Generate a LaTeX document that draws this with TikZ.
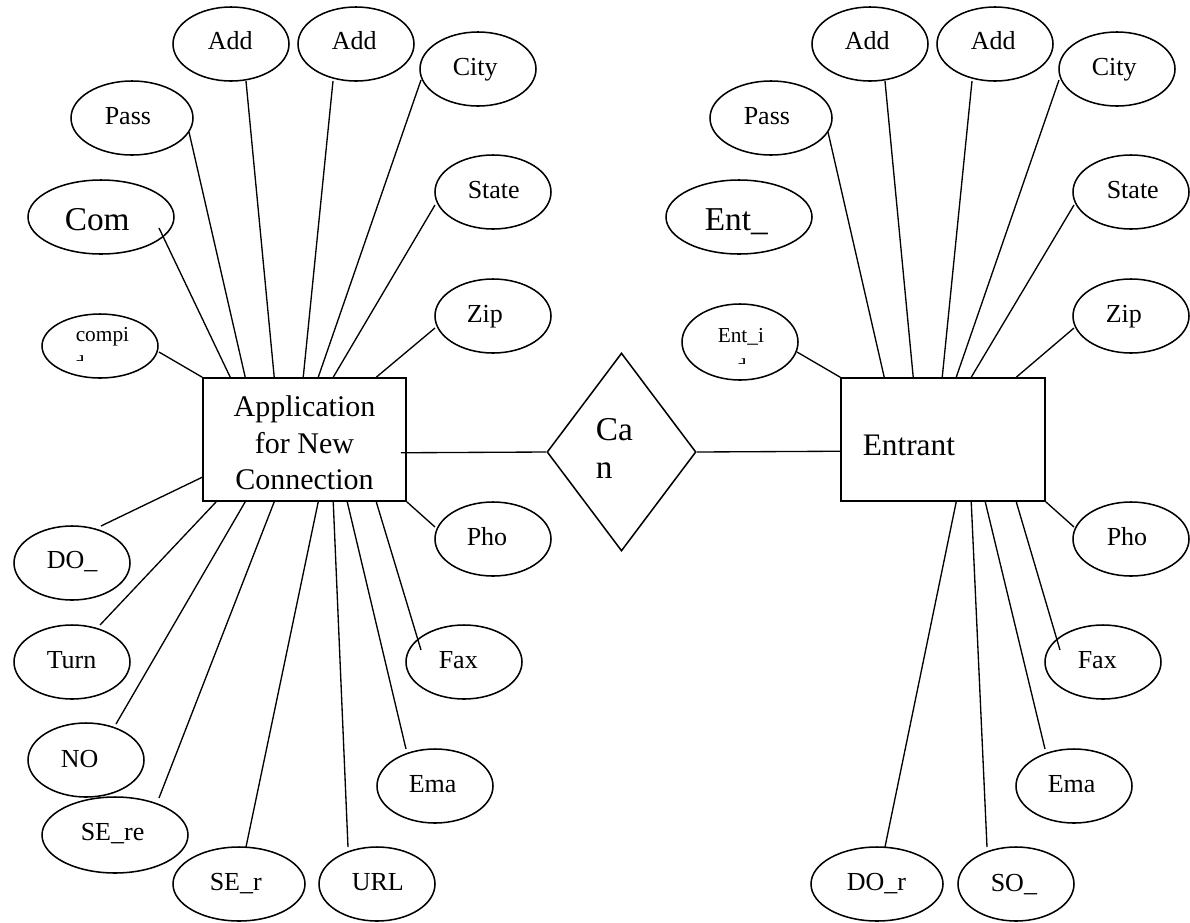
\documentclass[tikz,border=0pt]{standalone}
\usepackage{fontspec}
\setmainfont{Liberation Serif}
\usetikzlibrary{shapes.geometric,calc}
\newcommand\attrfont{\fontsize{19.5}{23}\selectfont}
\newcommand\keyfont{\fontsize{16}{19}\selectfont}
\newcommand\bigattrfont{\fontsize{25}{28.5}\selectfont}
\newcommand\appfont{\fontsize{22.5}{27.5}\selectfont}
\newcommand\entrantfont{\fontsize{23.5}{28}\selectfont}
\begin{document}
\begin{tikzpicture}[x=0.75pt,y=-0.75pt,line width=1.15pt,
  attr/.style={ellipse,draw,inner sep=0pt,minimum width=87pt,minimum height=55.5pt},
  entity/.style={rectangle,draw,inner sep=0pt,minimum width=152.25pt,minimum height=92.25pt},
  rel/.style={diamond,draw,inner sep=0pt,minimum width=111.75pt,minimum height=148.5pt},
  txt/.style={inner sep=0pt,anchor=base west,font=\attrfont},
  link/.style={line width=1pt}]
\useasboundingbox (0,0) rectangle (1190,922);

% ---------- entities and relationship ----------
\node[entity] (app) at (304.5,439.5) {};
\node[font=\appfont,align=center,inner sep=0pt] (apptext) at (304.5,443) {Application\\for New\\Connection};
\node[entity,minimum width=153pt] (ent) at (943,439.5) {};
\node[txt,font=\entrantfont] (enttext) at (862,455) {Entrant};
\node[rel] (can) at (621.5,452) {};
\node[txt,font=\bigattrfont] (cantext) at (595,440) {Ca};
\node[txt,font=\bigattrfont] (cantext2) at (595,478) {n};

% ---------- left attributes ----------
\node[attr] (add1) at (231,44) {};
\node[txt] at (207,49) {Add};
\node[attr] (add2) at (356,44) {};
\node[txt] at (331,49) {Add};
\node[attr] (city) at (478,69) {};
\node[txt] at (452,75) {City};
\node[attr,minimum width=91.5pt] (pass) at (132,118) {};
\node[txt] at (104,124) {Pass};
\node[attr,minimum width=109.5pt] (com) at (101,217) {};
\node[txt,font=\bigattrfont] at (64,230) {Com};
\node[attr] (state) at (493,192) {};
\node[txt] at (467,198) {State};
\node[attr] (zip) at (493,316) {};
\node[txt] at (466,322) {Zip};
\node[attr,minimum height=48pt] (compi) at (100,346) {};
\node[txt,font=\keyfont] at (75,341) {compi};
\begin{scope}
  \clip (60,330) rectangle (140,360);
  \node[txt,font=\keyfont] at (73,370) {d};
\end{scope}
\node[attr] (do) at (72,563) {};
\node[txt] at (46,568) {DO\_};
\node[attr] (pho) at (493,539) {};
\node[txt] at (466,545) {Pho};
\node[attr] (turn) at (72,662) {};
\node[txt] at (46,668) {Turn};
\node[attr] (no) at (86,760) {};
\node[txt] at (60,767) {NO};
\node[attr,minimum width=109.5pt,minimum height=57pt] (sere) at (115,835) {};
\node[txt] at (80,840) {SE\_re};
\node[attr,minimum width=99pt] (ser) at (239,884) {};
\node[txt] at (209,890) {SE\_r};
\node[attr] (url) at (377,884) {};
\node[txt] at (351,890) {URL};
\node[attr] (fax) at (464,662) {};
\node[txt] at (438,668) {Fax};
\node[attr] (ema) at (435,786) {};
\node[txt] at (408,792) {Ema};

% ---------- right attributes ----------
\node[attr] (add1r) at (870,44) {};
\node[txt] at (844,49) {Add};
\node[attr] (add2r) at (995,44) {};
\node[txt] at (970,49) {Add};
\node[attr] (cityr) at (1117,69) {};
\node[txt] at (1091,75) {City};
\node[attr,minimum width=91.5pt] (passr) at (771,118) {};
\node[txt] at (743,124) {Pass};
\node[attr,minimum width=109.5pt] (entname) at (739,217) {};
\node[txt,font=\bigattrfont] at (704,230) {Ent\_};
\node[attr] (stater) at (1131,192) {};
\node[txt] at (1106,198) {State};
\node[attr] (zipr) at (1131,316) {};
\node[txt] at (1105,322) {Zip};
\node[attr,minimum height=57pt] (entid) at (740,342) {};
\node[txt,font=\keyfont] at (717,342) {Ent\_i};
\begin{scope}
  \clip (700,330) rectangle (780,363);
  \node[txt,font=\keyfont] at (735,373) {d};
\end{scope}
\node[attr] (phor) at (1131,539) {};
\node[txt] at (1106,545) {Pho};
\node[attr] (faxr) at (1103,662) {};
\node[txt] at (1077,668) {Fax};
\node[attr] (emar) at (1074,786) {};
\node[txt] at (1047,792) {Ema};
\node[attr,minimum width=99pt] (dor) at (877,884) {};
\node[txt] at (846,890) {DO\_r};
\node[attr] (so) at (1016,884) {};
\node[txt] at (990,891) {SO\_};

% ---------- relationship lines ----------
\draw[link] ($(app.south east)+(-6,-49)$) -- (can.west);
\draw[link] (can.east) -- ($(ent.north west)+(0,74)$);

% ---------- left connectors ----------
\draw[link] ($(compi.center)+(59,6)$) -- (app.north west);
\draw[link] ($(com.center)+(58,11)$) -- ($(app.north west)+(28,0)$);
\draw[link] ($(pass.center)+(57,14)$) -- ($(app.north west)+(43,0)$);
\draw[link] ($(add1.center)+(15,37)$) -- ($(app.north west)+(72,0)$);
\draw[link] ($(add2.center)+(-23,37)$) -- ($(app.north west)+(101,0)$);
\draw[link] ($(city.center)+(-57,11)$) -- ($(app.north west)+(116,0)$);
\draw[link] ($(state.center)+(-58,13)$) -- ($(app.north west)+(131,0)$);
\draw[link] ($(zip.center)+(-58,12)$) -- ($(app.north west)+(174,0)$);
\draw[link] ($(do.center)+(29,-37)$) -- ($(app.north west)+(0,100)$);
\draw[link] ($(turn.center)+(28,-37)$) -- ($(app.south west)+(14,0)$);
\draw[link] ($(no.center)+(30,-36)$) -- ($(app.south west)+(43,0)$);
\draw[link] ($(sere.center)+(44,-37)$) -- ($(app.south west)+(72,0)$);
\draw[link] ($(ser.center)+(7,-37)$) -- ($(app.south west)+(116,0)$);
\draw[link] ($(url.center)+(-29,-37)$) -- ($(app.south west)+(131,0)$);
\draw[link] ($(ema.center)+(-29,-37)$) -- ($(app.south west)+(145,0)$);
\draw[link] ($(fax.center)+(-43,-12)$) -- ($(app.south west)+(174,0)$);
\draw[link] ($(pho.center)+(-58,-12)$) -- (app.south east);

% ---------- right connectors ----------
\draw[link] ($(entid.center)+(57,10)$) -- (ent.north west);
\draw[link] ($(passr.center)+(57,14)$) -- ($(ent.north west)+(44,0)$);
\draw[link] ($(add1r.center)+(15,37)$) -- ($(ent.north west)+(73,0)$);
\draw[link] ($(add2r.center)+(-23,37)$) -- ($(ent.north west)+(102,0)$);
\draw[link] ($(cityr.center)+(-58,11)$) -- ($(ent.north west)+(116,0)$);
\draw[link] ($(stater.center)+(-57,13)$) -- ($(ent.north west)+(131,0)$);
\draw[link] ($(zipr.center)+(-57,12)$) -- ($(ent.north west)+(176,0)$);
\draw[link] ($(dor.center)+(8,-37)$) -- ($(ent.south west)+(116,0)$);
\draw[link] ($(so.center)+(-29,-37)$) -- ($(ent.south west)+(131,0)$);
\draw[link] ($(emar.center)+(-29,-37)$) -- ($(ent.south west)+(145,0)$);
\draw[link] ($(faxr.center)+(-43,-12)$) -- ($(ent.south west)+(176,0)$);
\draw[link] ($(phor.center)+(-57,-12)$) -- (ent.south east);
\end{tikzpicture}
\end{document}
